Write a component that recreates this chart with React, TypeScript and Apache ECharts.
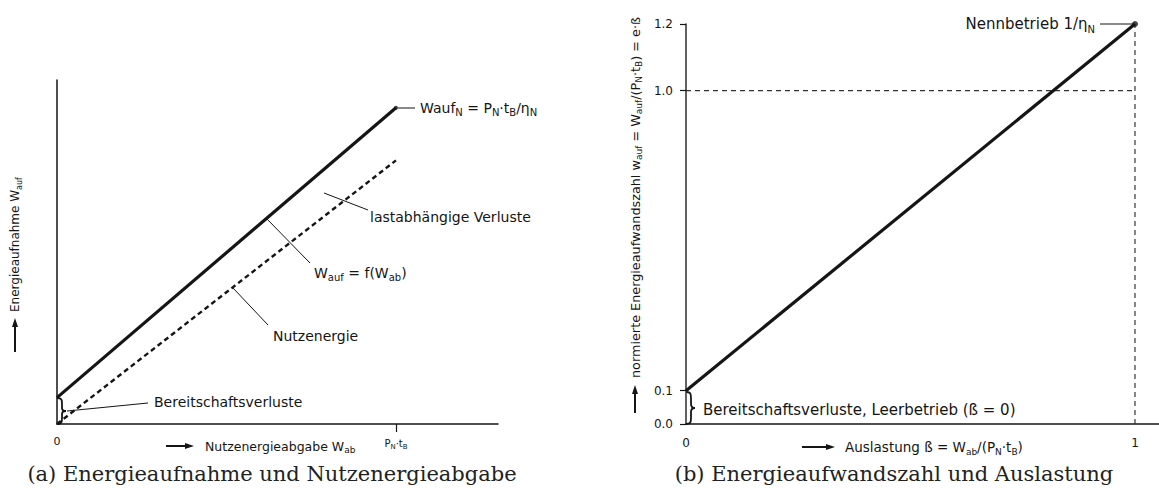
import React, { useEffect, useRef } from 'react';
import * as echarts from 'echarts';

// ---- data ----
const outputShare = [0, 1]; // W_ab in units of P_N·t_B
const inputEnergy = [0.1, 1.2]; // W_auf
const usefulEnergy = [0, 1]; // Nutzenergie
const utilisation = [0, 1]; // ß
const effortNumber = [0.1, 1.2]; // w_auf
const nominalLevel = 1.0;
const nominalUtil = 1;
const leftXTicks = [0, 1];
const rightXTicks = [0, 1];
const rightYTicks = [0, 0.1, 1.0, 1.2];

const SANS = "'DejaVu Sans', sans-serif";
const SERIF = "'DejaVu Serif', serif";
const INK = '#151515';

echarts.graphic.registerShape(
  'braceL',
  echarts.graphic.extendPath(
    'M0,0 C5,0 5,2 5,6 L5,10 C5,12 6,13 9,13 C6,13 5,14 5,16 L5,20 C5,24 5,26 0,26',
    {}
  )
);
echarts.graphic.registerShape(
  'braceR',
  echarts.graphic.extendPath(
    'M0,0 C5,0 5,2 5,7 L5,12 C5,15 6,16 9,16 C6,16 5,17 5,20 L5,25 C5,30 5,32 0,32',
    {}
  )
);

const zip = (xs: number[], ys: number[]) => xs.map((x, i) => [x, ys[i]]);

const richSet = (size: number) => ({
  m: { fontSize: size, fontFamily: SANS, fill: INK, lineHeight: size + 5 },
  s: { fontSize: Math.round(size * 0.68), fontFamily: SANS, fill: INK, lineHeight: Math.round(size * 0.68), verticalAlign: 'bottom' },
});

function txt(x: number, y: number, text: string, size: number, extra: any = {}) {
  return {
    type: 'text',
    x,
    y,
    rotation: extra.rotation || 0,
    style: {
      text,
      rich: richSet(size),
      font: `${size}px ${SANS}`,
      fill: INK,
      align: extra.align || 'left',
      verticalAlign: 'middle',
    },
    silent: true,
  };
}

function seg(x1: number, y1: number, x2: number, y2: number, w = 1) {
  return {
    type: 'line',
    shape: { x1, y1, x2, y2 },
    style: { stroke: INK, lineWidth: w },
    silent: true,
  };
}

function arrowRight(x1: number, x2: number, y: number) {
  return [
    seg(x1, y, x2 - 7, y, 2),
    { type: 'polygon', shape: { points: [[x2 - 9, y - 3], [x2, y], [x2 - 9, y + 3]] }, style: { fill: INK }, silent: true },
  ];
}
function arrowUp(x: number, y1: number, y2: number) {
  return [
    seg(x, y1, x, y2 + 7, 2),
    { type: 'polygon', shape: { points: [[x - 3, y2 + 9], [x, y2], [x + 3, y2 + 9]] }, style: { fill: INK }, silent: true },
  ];
}

export default function App() {
  const ref = useRef<HTMLDivElement>(null);

  useEffect(() => {
    document.body.style.margin = '0';
    const chart = echarts.init(ref.current!, undefined, { renderer: 'svg' });

    const option: any = {
      animation: false,
      backgroundColor: '#ffffff',
      grid: [
        { left: 57, top: 80, width: 441, height: 344 },
        { left: 686, top: 24, width: 473, height: 400 },
      ],
      xAxis: [
        {
          gridIndex: 0,
          type: 'value',
          min: 0,
          max: 1.301,
          splitLine: { show: false },
          axisLine: { lineStyle: { color: INK, width: 1.5 } },
          axisTick: { show: true, customValues: [1], length: 8, inside: false, lineStyle: { color: INK, width: 1.2 } },
          axisLabel: {
            customValues: leftXTicks,
            margin: 12,
            fontFamily: SANS,
            fontSize: 11,
            color: INK,
            formatter: (v: number) => (v === 0 ? '0' : '{m|P}{s|N}{m|·t}{s|B}'),
            rich: {
              m: { fontSize: 10, fontFamily: SANS, color: INK, lineHeight: 14 },
              s: { fontSize: 7, fontFamily: SANS, color: INK, lineHeight: 7, verticalAlign: 'bottom' },
            },
          },
        },
        {
          gridIndex: 1,
          type: 'value',
          min: 0,
          max: 1.0535,
          splitLine: { show: false },
          axisLine: { lineStyle: { color: INK, width: 1.5 } },
          axisTick: { show: false },
          axisLabel: {
            customValues: rightXTicks,
            margin: 13,
            fontFamily: SANS,
            fontSize: 12,
            color: INK,
            formatter: (v: number) => String(v),
          },
        },
      ],
      yAxis: [
        {
          gridIndex: 0,
          type: 'value',
          min: 0,
          max: 1.305,
          splitLine: { show: false },
          axisLine: { show: true, lineStyle: { color: INK, width: 1.5 } },
          axisTick: { show: false },
          axisLabel: { show: false },
        },
        {
          gridIndex: 1,
          type: 'value',
          min: 0,
          max: 1.2,
          splitLine: { show: false },
          axisLine: { show: true, lineStyle: { color: '#3a3a3a', width: 1.6 } },
          axisTick: { show: true, customValues: rightYTicks, length: 6, lineStyle: { color: INK, width: 1.2 } },
          axisLabel: {
            customValues: rightYTicks,
            margin: 13,
            fontFamily: SANS,
            fontSize: 12,
            color: INK,
            formatter: (v: number) => v.toFixed(1),
          },
        },
      ],
      series: [
        {
          type: 'line',
          xAxisIndex: 0,
          yAxisIndex: 0,
          data: zip(outputShare, inputEnergy),
          symbol: 'none',
          lineStyle: { color: INK, width: 3.2 },
        },
        {
          type: 'line',
          xAxisIndex: 0,
          yAxisIndex: 0,
          data: zip(outputShare, usefulEnergy),
          symbol: 'none',
          lineStyle: { color: INK, width: 2.4, type: [5, 3.5] },
        },
        {
          type: 'scatter',
          xAxisIndex: 0,
          yAxisIndex: 0,
          data: [[outputShare[1], inputEnergy[1]]],
          symbolSize: 4,
          itemStyle: { color: INK },
        },
        {
          type: 'line',
          xAxisIndex: 1,
          yAxisIndex: 1,
          data: [[0, nominalLevel], [nominalUtil, nominalLevel]],
          symbol: 'none',
          lineStyle: { color: '#333', width: 1.2, type: [5, 4] },
        },
        {
          type: 'line',
          xAxisIndex: 1,
          yAxisIndex: 1,
          data: [[nominalUtil, 0], [nominalUtil, effortNumber[1]]],
          symbol: 'none',
          lineStyle: { color: '#333', width: 1.2, type: [5, 4] },
        },
        {
          type: 'line',
          xAxisIndex: 1,
          yAxisIndex: 1,
          data: zip(utilisation, effortNumber),
          symbol: 'none',
          lineStyle: { color: INK, width: 3.2 },
        },
        {
          type: 'scatter',
          xAxisIndex: 1,
          yAxisIndex: 1,
          data: [[utilisation[1], effortNumber[1]]],
          symbolSize: 6,
          itemStyle: { color: INK },
        },
      ],
      graphic: [
        // ---- left chart annotations ----
        seg(398, 108, 415, 108, 1),
        txt(420, 108, '{m|Wauf}{s|N}{m| = P}{s|N}{m|·t}{s|B}{m|/η}{s|N}', 14),
        seg(324, 193, 368, 210, 1),
        txt(370, 217, '{m|lastabhängige Verluste}', 14),
        seg(266, 218, 310, 263, 1),
        txt(314, 273, '{m|W}{s|auf}{m| = f(W}{s|ab}{m|)}', 14),
        seg(233, 288, 268, 325, 1),
        txt(273, 336, '{m|Nutzenergie}', 14),
        seg(67, 411, 148, 403, 1),
        txt(154, 402, '{m|Bereitschaftsverluste}', 14),
        { type: 'braceL', x: 57, y: 398, style: { stroke: INK, fill: 'none', lineWidth: 1.8 }, silent: true },
        ...arrowRight(166, 194, 446),
        txt(205, 446, '{m|Nutzenergieabgabe W}{s|ab}', 12.5),
        ...arrowUp(15, 352, 318),
        txt(15, 312, '{m|Energieaufnahme W}{s|auf}', 12, { rotation: Math.PI / 2 }),
        // ---- right chart annotations ----
        txt(1095, 24, '{m|Nennbetrieb 1/η}{s|N}', 15, { align: 'right' }),
        seg(1100, 24, 1133, 24, 1),
        { type: 'braceR', x: 686, y: 392, style: { stroke: INK, fill: 'none', lineWidth: 1.8 }, silent: true },
        txt(703, 410, '{m|Bereitschaftsverluste, Leerbetrieb (ß = 0)}', 15),
        ...arrowRight(802, 835, 447),
        txt(845, 447, '{m|Auslastung ß = W}{s|ab}{m|/(P}{s|N}{m|·t}{s|B}{m|)}', 13.5),
        ...arrowUp(635, 413, 385),
        txt(635, 378, '{m|normierte Energieaufwandszahl w}{s|auf}{m| = W}{s|auf}{m|/(P}{s|N}{m|·t}{s|B}{m|) = e·ß}', 12.8, { rotation: Math.PI / 2 }),
        // ---- captions ----
        {
          type: 'text',
          x: 272,
          y: 474,
          style: { text: '(a) Energieaufnahme und Nutzenergieabgabe', font: `21px ${SERIF}`, fill: '#222', align: 'center', verticalAlign: 'middle' },
          silent: true,
        },
        {
          type: 'text',
          x: 894,
          y: 474,
          style: { text: '(b) Energieaufwandszahl und Auslastung', font: `21px ${SERIF}`, fill: '#222', align: 'center', verticalAlign: 'middle' },
          silent: true,
        },
      ],
    };

    chart.setOption(option);
    return () => chart.dispose();
  }, []);

  return <div ref={ref} style={{ width: 1159, height: 493 }} />;
}
